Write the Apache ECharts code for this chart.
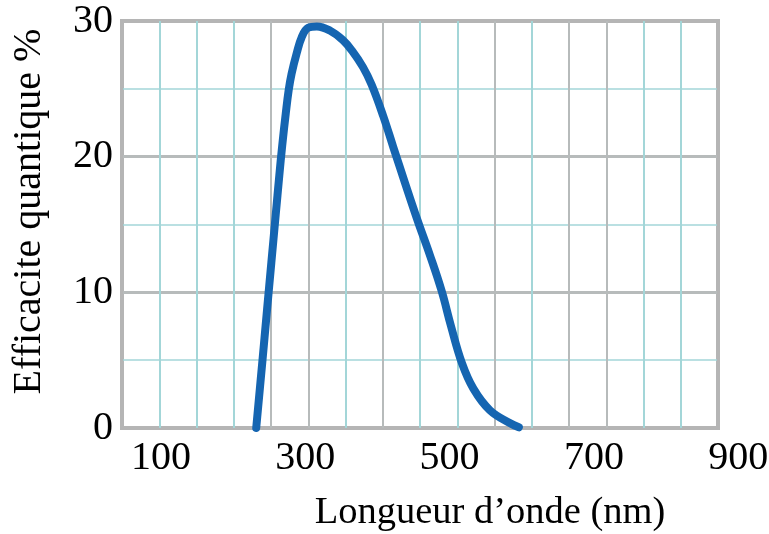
<!DOCTYPE html>
<html>
<head>
<meta charset="utf-8">
<script src="https://cdn.jsdelivr.net/npm/echarts@6/dist/echarts.min.js"></script>
<style>
  html, body { margin: 0; padding: 0; background: #fff; }
  #chart { width: 769px; height: 534px; }
</style>
</head>
<body>
<div id="chart"></div>
<script>
// courbe (nm, %)
const wavelength = [232, 240, 247, 253, 259, 264, 268, 273, 277, 281, 288, 295, 304, 316, 334, 352, 365, 380, 392, 408, 422, 438, 455, 473, 489, 502, 517, 533, 556, 584, 596];
const efficiency = [0, 4.6, 8.7, 12.2, 15.7, 18.6, 20.8, 23.2, 24.9, 26.1, 27.6, 28.8, 29.5, 29.6, 29.3, 28.6, 27.8, 26.6, 25.3, 23.0, 20.7, 18.1, 15.4, 12.7, 10.1, 7.5, 4.8, 2.9, 1.3, 0.35, 0.05];
const xTickLabels = [100, 300, 500, 700, 900];
const yTicks = [0, 10, 20, 30];

const font = "'Liberation Serif', 'Times New Roman', serif";
const cyan = '#a3d6d8';
const grey = '#b7bbbb';
const border = '#b5b5b5';

const chart = echarts.init(document.getElementById('chart'));

const option = {
  animation: false,
  grid: {
    left: 122, right: 51, top: 21, bottom: 106,
    outerBoundsMode: 'none', containLabel: false,
    show: true, borderColor: border, borderWidth: 4, backgroundColor: '#fff'
  },
  xAxis: [
    { // grille verticale
      type: 'value', min: 50, max: 850, interval: 50, position: 'bottom',
      axisLine: { show: false }, axisTick: { show: false }, axisLabel: { show: false },
      splitLine: {
        show: true,
        lineStyle: {
          width: 2,
          color: [border, cyan, cyan, cyan, grey, grey, cyan, grey, cyan, cyan, grey, cyan, grey, grey, cyan, cyan, border]
        }
      }
    },
    { // graduations en nm
      type: 'value', min: 46, max: 872, position: 'bottom',
      axisLine: { show: false }, axisTick: { show: false }, splitLine: { show: false },
      axisLabel: {
        customValues: xTickLabels.slice(0, 4),
        color: '#000', fontFamily: font, fontSize: 40, margin: 10
      },
      name: 'Longueur d\u2019onde (nm)',
      nameLocation: 'middle', nameGap: 65,
      nameTextStyle: { color: '#000', fontFamily: font, fontSize: 38.5, padding: [0, 0, 0, 140] }
    }
  ],
  yAxis: [
    {
      type: 'value', min: 0, max: 30, interval: 5,
      axisLine: { show: false }, axisTick: { show: false },
      axisLabel: {
        color: '#000', fontFamily: font, fontSize: 40, margin: 9,
        formatter: v => (yTicks.indexOf(v) >= 0 ? String(v) : '')
      },
      splitLine: { show: true, lineStyle: { width: 1.5, color: cyan } },
      name: 'Efficacite quantique %',
      nameLocation: 'middle', nameGap: 73, nameRotate: 90,
      nameTextStyle: { color: '#000', fontFamily: font, fontSize: 40, padding: [0, 0, 0, 26] }
    },
    { // lignes grises à 10 et 20
      type: 'value', min: 0, max: 30, interval: 10, position: 'left',
      axisLine: { show: false }, axisTick: { show: false }, axisLabel: { show: false },
      splitLine: { show: true, lineStyle: { width: 3, color: [border, grey, grey, border] } }
    }
  ],
  series: [{
    type: 'line',
    xAxisIndex: 1, yAxisIndex: 0,
    data: wavelength.map((w, i) => [w, efficiency[i]]),
    smooth: 0.4,
    showSymbol: false,
    lineStyle: { color: '#1565b1', width: 8, cap: 'round' },
    z: 5
  }]
};

chart.setOption(option);

// la graduation 900 tombe hors du cadre : placée via l'échelle de l'axe
const x900 = chart.convertToPixel({ xAxisIndex: 1 }, 900);
const yBase = chart.convertToPixel({ yAxisIndex: 0 }, 0);
chart.setOption({
  graphic: [{
    type: 'text', x: x900, y: yBase + 10,
    style: {
      text: String(xTickLabels[4]), fill: '#000', font: '40px ' + font,
      align: 'center', verticalAlign: 'top'
    }
  }]
});
</script>
</body>
</html>
